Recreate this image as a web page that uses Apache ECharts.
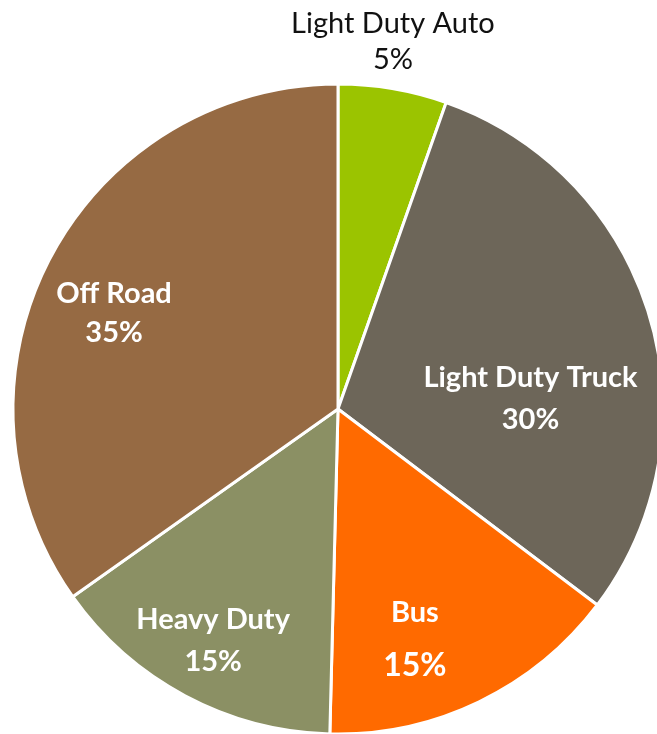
<!DOCTYPE html>
<html>
<head>
<meta charset="utf-8">
<script src="https://cdn.jsdelivr.net/npm/echarts@6/dist/echarts.min.js"></script>
<style>
html,body{margin:0;padding:0;background:#fff;}
#chart{width:657px;height:734px;}
</style>
</head>
<body>
<div id="chart"></div>
<script>
// Data
const categories = ['Light Duty Auto', 'Light Duty Truck', 'Bus', 'Heavy Duty', 'Off Road'];
const values = [5.4, 29.9, 15.1, 14.8, 34.8];
const colors = ['#9BC400', '#6D6659', '#FF6A00', '#8B9064', '#966A43'];

// label placement offsets (px) relative to library's inside label position
const labelOffsets = [[27, -204], [34, 37], [5, 81], [-47, 86], [-77, -20]];
const lineHeights = [36, 42, 53, 42, 39];

const chart = echarts.init(document.getElementById('chart'), null, {renderer: 'canvas'});

const data = categories.map((c, i) => {
  const isAuto = i === 0;
  const isBus = i === 2;
  return {
    name: c,
    value: values[i],
    itemStyle: {color: colors[i]},
    label: {
      offset: labelOffsets[i],
      rich: {
        n: {
          fontFamily: 'Lato',
          fontSize: 29,
          fontWeight: isAuto ? 'normal' : 'bold',
          color: isAuto ? '#111' : '#fff',
          lineHeight: lineHeights[i],
          align: 'center'
        },
        p: {
          fontFamily: 'Lato',
          fontSize: isBus ? 32 : 29,
          fontWeight: isAuto ? 'normal' : 'bold',
          color: isAuto ? '#111' : '#fff',
          lineHeight: lineHeights[i],
          align: 'center'
        }
      }
    }
  };
});

chart.setOption({
  animation: false,
  series: [{
    type: 'pie',
    center: [338, 409],
    radius: [0, 325],
    startAngle: 90,
    clockwise: true,
    itemStyle: {borderColor: '#fff', borderWidth: 3},
    label: {
      show: true,
      position: 'inside',
      formatter: p => '{n|' + p.name + '}\n{p|' + Math.round(p.percent) + '%}'
    },
    labelLine: {show: false},
    emphasis: {disabled: true},
    data: data
  }]
});
</script>
</body>
</html>
